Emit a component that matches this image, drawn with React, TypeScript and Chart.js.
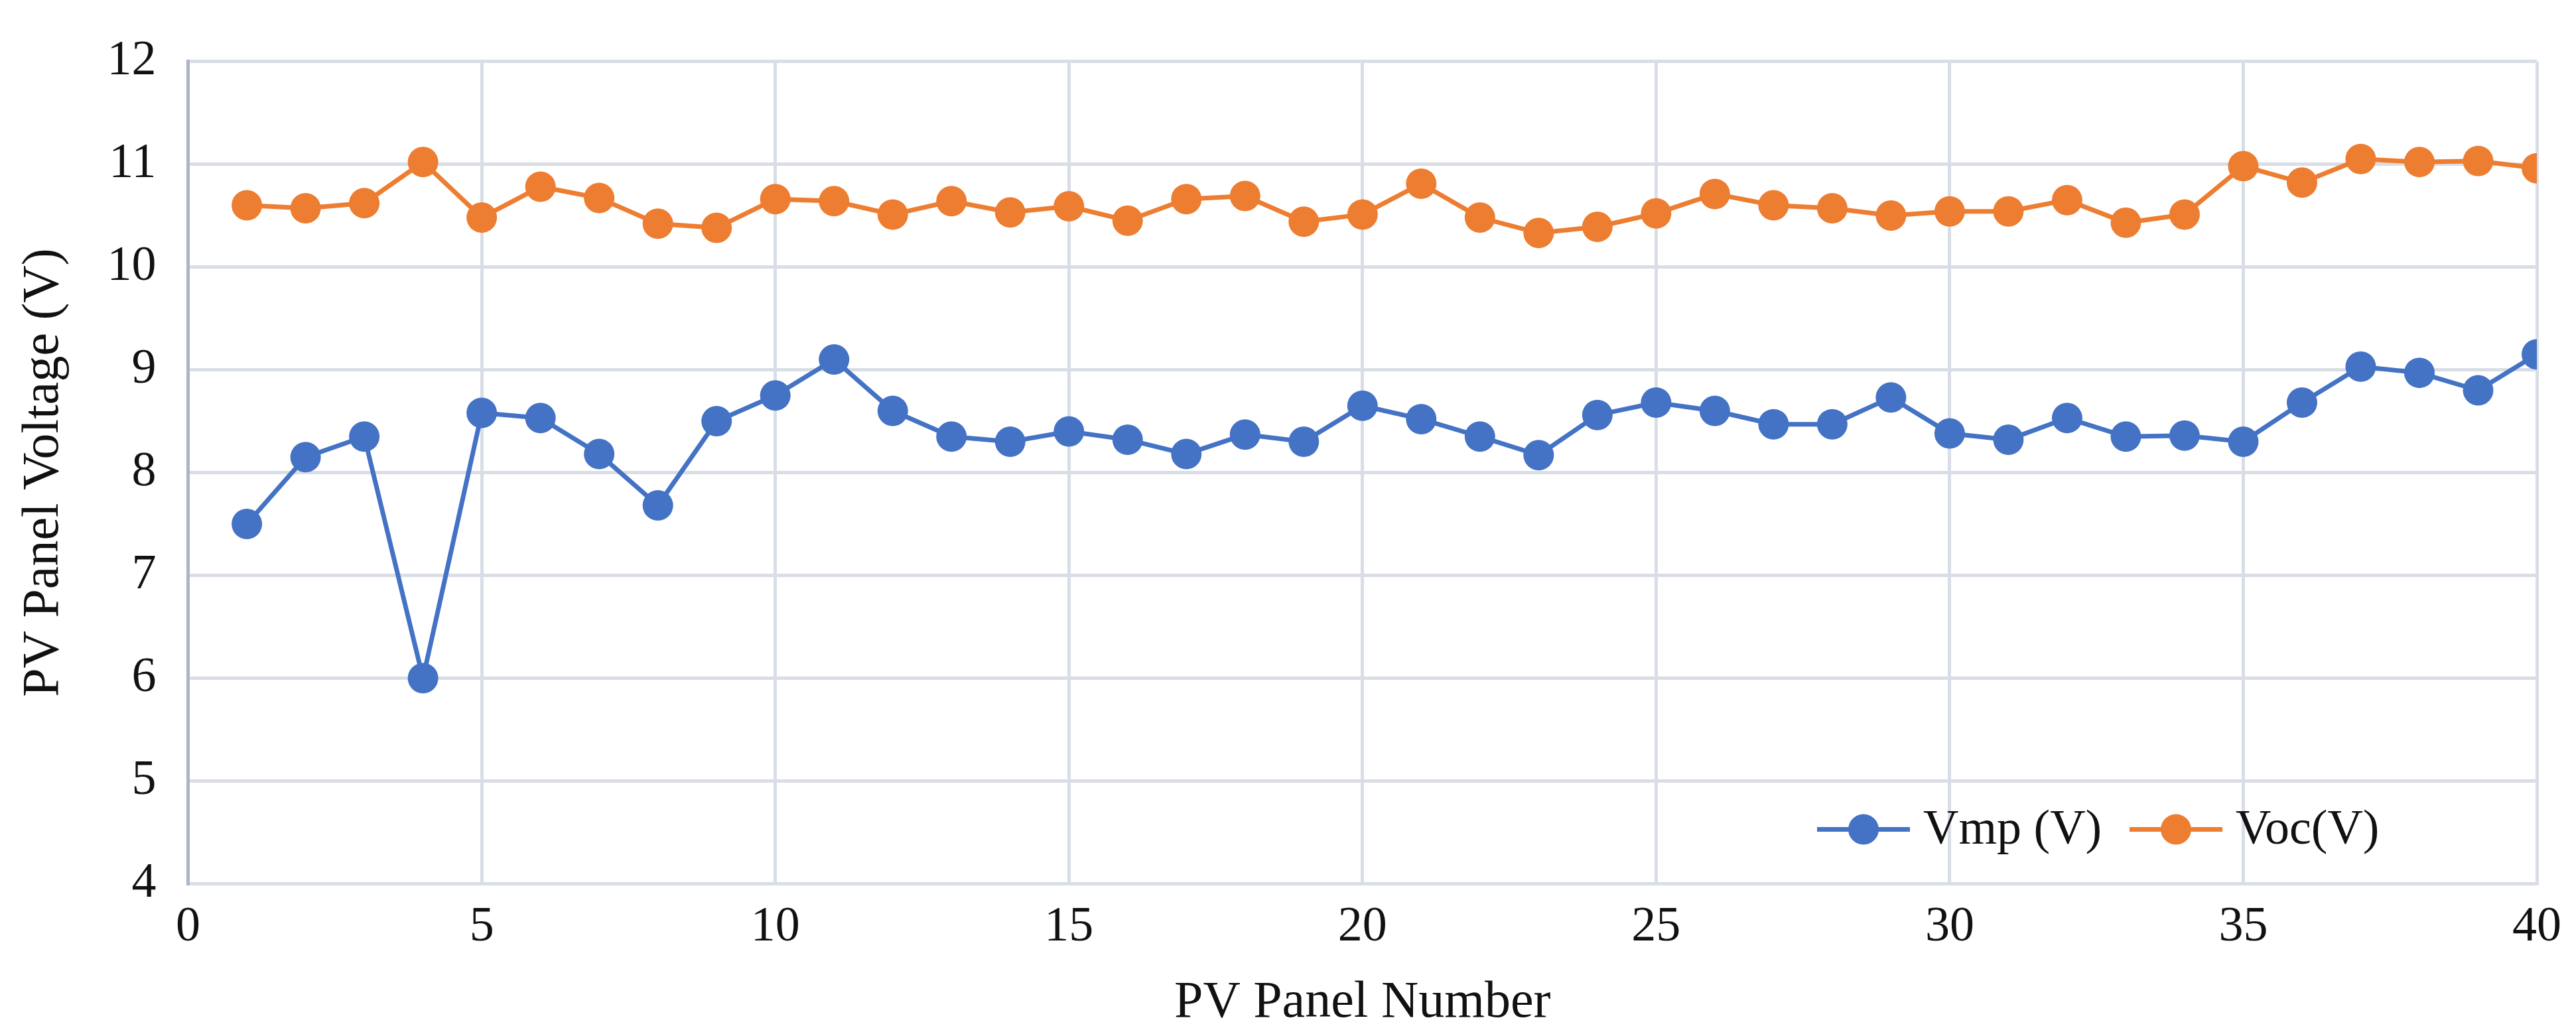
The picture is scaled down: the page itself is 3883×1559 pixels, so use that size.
import React, { useEffect, useRef } from "react";
import { Chart, registerables } from "chart.js";
Chart.register(...registerables);

const panels = Array.from({ length: 40 }, (_, i) => i + 1);
const vmp = [7.5, 8.15, 8.35, 6.0, 8.58, 8.53, 8.18, 7.68, 8.5, 8.75, 9.1, 8.6, 8.35, 8.3, 8.4, 8.32, 8.18, 8.37, 8.3, 8.65, 8.52, 8.35, 8.17, 8.56, 8.68, 8.6, 8.47, 8.47, 8.73, 8.38, 8.32, 8.53, 8.35, 8.36, 8.3, 8.68, 9.03, 8.97, 8.8, 9.15];
const voc = [10.6, 10.57, 10.62, 11.02, 10.48, 10.78, 10.67, 10.42, 10.38, 10.66, 10.64, 10.51, 10.64, 10.53, 10.59, 10.45, 10.66, 10.69, 10.44, 10.51, 10.81, 10.48, 10.33, 10.39, 10.52, 10.71, 10.6, 10.57, 10.5, 10.54, 10.54, 10.65, 10.43, 10.51, 10.98, 10.82, 11.05, 11.02, 11.03, 10.96];
const seriesNames = ["Vmp (V)", "Voc(V)"];
const colors = ["#4472c4", "#ed7d31"];
const FONT = "'Liberation Serif', 'DejaVu Serif', serif";

const legendPlugin = {
  id: "insideLegend",
  afterDraw(chart: any) {
    const { ctx, chartArea } = chart;
    ctx.save();
    ctx.font = `74px ${FONT}`;
    ctx.textBaseline = "middle";
    const y = chartArea.bottom - 82;
    const xs = [chartArea.right - 1085, chartArea.right - 614];
    chart.data.datasets.forEach((ds: any, i: number) => {
      const x = xs[i];
      ctx.strokeStyle = ds.borderColor;
      ctx.lineWidth = 7;
      ctx.beginPath();
      ctx.moveTo(x, y);
      ctx.lineTo(x + 140, y);
      ctx.stroke();
      ctx.fillStyle = ds.backgroundColor;
      ctx.beginPath();
      ctx.arc(x + 70, y, 23, 0, Math.PI * 2);
      ctx.fill();
      ctx.fillStyle = "#111";
      ctx.fillText(ds.label, x + 160, y + 2);
    });
    ctx.restore();
  },
};

export default function App() {
  const ref = useRef<HTMLCanvasElement>(null);
  useEffect(() => {
    document.body.style.margin = "0";
    const mk = (d: number[], i: number) => ({
      label: seriesNames[i],
      data: d.map((v, k) => ({ x: panels[k], y: v })),
      borderColor: colors[i],
      backgroundColor: colors[i],
      borderWidth: 7,
      pointRadius: 23,
      pointHoverRadius: 23,
      pointBorderWidth: 0,
    });
    const chart = new Chart(ref.current!, {
      type: "line",
      data: { datasets: [mk(vmp, 0), mk(voc, 1)] },
      options: {
        animation: false,
        responsive: false,
        layout: { padding: { top: 28, right: 58, left: 20, bottom: 0 } },
        plugins: { legend: { display: false }, tooltip: { enabled: false } },
        scales: {
          x: {
            type: "linear", min: 0, max: 40,
            ticks: { stepSize: 5, color: "#111", font: { family: FONT, size: 74 }, padding: 22 },
            grid: { color: "#d9dde6", lineWidth: 5, drawTicks: false },
            border: { color: "#d9dde6", width: 5 },
            title: { display: true, text: "PV Panel Number", color: "#111", font: { family: FONT, size: 78 }, padding: 0 },
          },
          y: {
            min: 4, max: 12,
            ticks: { stepSize: 1, color: "#111", font: { family: FONT, size: 74 }, padding: 48 },
            grid: { color: "#d9dde6", lineWidth: 5, drawTicks: false },
            border: { color: "#aab5c8", width: 5 },
            title: { display: true, text: "PV Panel Voltage (V)", color: "#111", font: { family: FONT, size: 78 }, padding: 0 },
          },
        },
      },
      plugins: [legendPlugin],
    });
    return () => chart.destroy();
  }, []);
  return <canvas ref={ref} width={3883} height={1559} style={{ display: "block" }} />;
}
